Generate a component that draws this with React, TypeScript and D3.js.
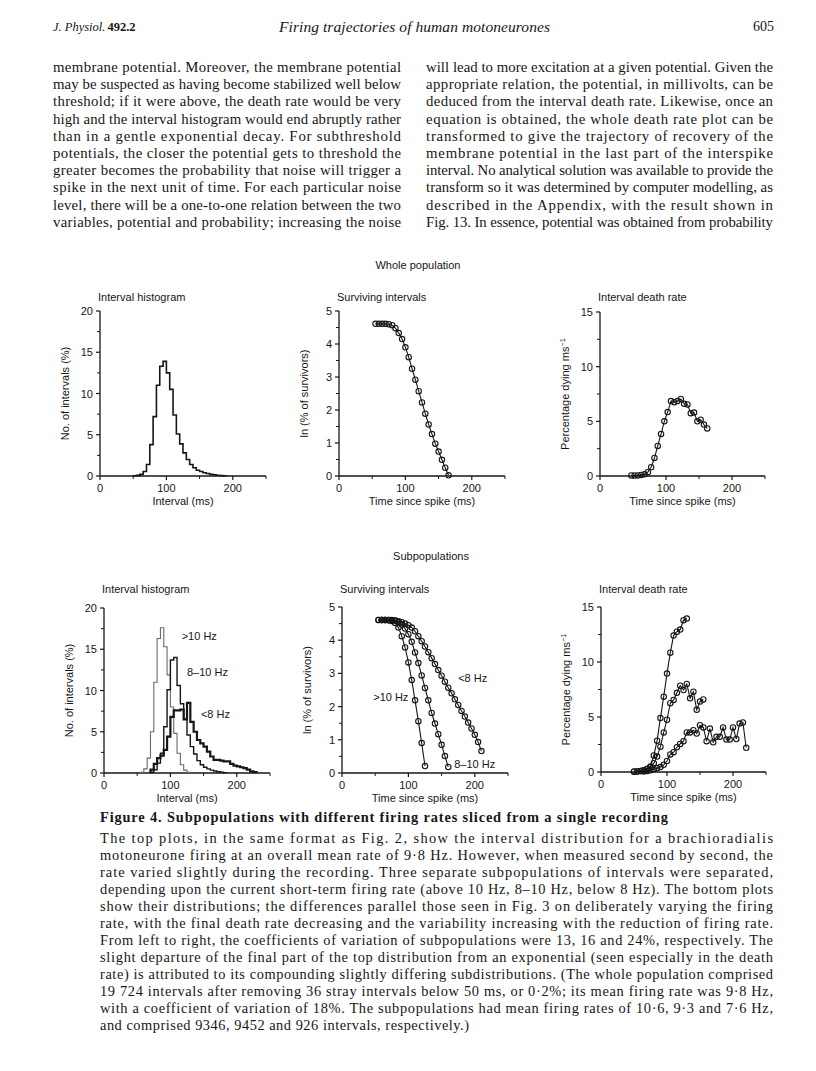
import React from "react";
import * as d3 from "d3";

// ===================== DATA =====================
// Whole population – interval histogram (5 ms bins; bin start in ms, % of intervals)
const wholeHistStart = [50, 55, 60, 65, 70, 75, 80, 85, 90, 95, 100, 105, 110, 115, 120, 125, 130, 135, 140, 145, 150, 155, 160, 165, 170, 175, 180, 185];
const wholeHistPct = [0.03, 0.08, 0.2, 0.55, 1.4, 3.8, 7.2, 11.0, 13.3, 13.9, 12.5, 10.5, 7.4, 5.1, 3.9, 2.8, 2.0, 1.4, 1.0, 0.7, 0.55, 0.4, 0.3, 0.22, 0.15, 0.1, 0.06, 0.03];

// Whole population – surviving intervals, ln(% of survivors)
const wholeSurvTime = [55, 60, 65, 70, 75, 80, 85, 90, 95, 100, 105, 110, 115, 120, 125, 130, 135, 140, 145, 150, 155, 160, 165];
const wholeSurvLn = [4.61, 4.61, 4.61, 4.61, 4.6, 4.57, 4.48, 4.33, 4.15, 3.9, 3.6, 3.25, 2.92, 2.57, 2.23, 1.89, 1.56, 1.27, 0.98, 0.74, 0.49, 0.25, 0.02];

// Whole population – interval death rate (% dying per ms)
const wholeDeathTime = [47.5, 52.5, 57.5, 62.5, 67.5, 72.5, 77.5, 82.5, 87.5, 92.5, 97.5, 102.5, 107.5, 112.5, 117.5, 122.5, 127.5, 132.5, 137.5, 142.5, 147.5, 152.5, 157.5, 162.5];
const wholeDeathRate = [0.05, 0.05, 0.05, 0.1, 0.15, 0.35, 0.8, 1.65, 2.75, 3.85, 5.0, 5.85, 6.85, 6.75, 6.85, 7.05, 6.6, 6.55, 5.75, 5.8, 5.0, 5.15, 4.7, 4.35];

// Subpopulations – interval histograms
const histGt10Start = [55, 60, 65, 70, 75, 80, 85, 90, 95, 100, 105, 110, 115, 120, 125];
const histGt10Pct = [0.1, 0.5, 1.8, 5.0, 11.0, 16.3, 17.6, 15.3, 11.9, 8.0, 4.8, 2.4, 1.0, 0.35, 0.1];
const hist8to10Start = [70, 75, 80, 85, 90, 95, 100, 105, 110, 115, 120, 125, 130, 135, 140, 145, 150, 155, 160, 165, 170, 175, 180];
const hist8to10Pct = [0.1, 0.4, 1.2, 2.4, 5.6, 10.1, 13.7, 14.0, 10.6, 8.4, 6.5, 4.6, 3.2, 2.3, 1.5, 1.0, 0.7, 0.5, 0.35, 0.25, 0.15, 0.1, 0.05];
const histLt8Start = [70, 75, 80, 85, 90, 95, 100, 105, 110, 115, 120, 125, 130, 135, 140, 145, 150, 155, 160, 165, 170, 175, 180, 185, 190, 195, 200, 205, 210, 215, 220, 225];
const histLt8Pct = [0.4, 1.1, 1.8, 2.1, 2.8, 4.4, 6.8, 7.6, 7.6, 7.7, 6.5, 8.5, 6.2, 5.0, 4.0, 3.6, 3.2, 2.6, 2.0, 1.6, 1.6, 1.5, 1.4, 1.4, 1.1, 0.9, 0.8, 0.7, 0.6, 0.4, 0.2, 0.1];

// Subpopulations – surviving intervals
const survGt10Time = [55, 60, 65, 70, 75, 80, 85, 90, 95, 100, 105, 110, 115, 120, 125];
const survGt10Ln = [4.61, 4.61, 4.61, 4.6, 4.58, 4.52, 4.38, 4.12, 3.78, 3.33, 2.8, 2.19, 1.56, 0.9, 0.21];
const surv8to10Time = [55, 60, 65, 70, 75, 80, 85, 90, 95, 100, 105, 110, 115, 120, 125, 130, 135, 140, 145, 150, 155, 160];
const surv8to10Ln = [4.61, 4.61, 4.61, 4.61, 4.61, 4.59, 4.55, 4.47, 4.35, 4.18, 3.95, 3.63, 3.31, 2.94, 2.56, 2.19, 1.81, 1.49, 1.17, 0.85, 0.51, 0.18];
const survLt8Time = [60, 65, 70, 75, 80, 85, 90, 95, 100, 105, 110, 115, 120, 125, 130, 135, 140, 145, 150, 155, 160, 165, 170, 175, 180, 185, 190, 195, 200, 205, 210];
const survLt8Ln = [4.61, 4.61, 4.61, 4.6, 4.59, 4.57, 4.54, 4.5, 4.45, 4.38, 4.27, 4.12, 3.97, 3.81, 3.64, 3.46, 3.28, 3.1, 2.93, 2.75, 2.57, 2.4, 2.22, 2.05, 1.87, 1.7, 1.52, 1.34, 1.15, 0.93, 0.66];

// Subpopulations – interval death rate
const deathGt10Time = [50, 55, 60, 65, 70, 75, 80, 85, 90, 95, 100, 105, 110, 115, 120, 125, 130];
const deathGt10Rate = [0.05, 0.05, 0.08, 0.15, 0.3, 0.5, 1.5, 2.85, 4.9, 6.85, 8.95, 10.85, 12.4, 12.75, 12.95, 13.8, 13.95];
const death8to10Time = [50, 55, 60, 65, 70, 75, 80, 85, 90, 95, 100, 105, 110, 115, 120, 125, 130, 135, 140, 145, 150, 155];
const death8to10Rate = [0.03, 0.05, 0.08, 0.15, 0.25, 0.45, 0.8, 1.4, 2.3, 3.6, 4.75, 6.25, 6.55, 7.2, 7.85, 7.45, 8.0, 6.7, 7.3, 5.65, 6.4, 6.6];
const deathLt8Time = [65, 70, 75, 80, 85, 90, 95, 100, 105, 110, 115, 120, 125, 130, 135, 140, 145, 150, 155, 160, 165, 170, 175, 180, 185, 190, 195, 200, 205, 210, 215, 220];
const deathLt8Rate = [0.05, 0.1, 0.15, 0.25, 0.35, 0.45, 0.65, 1.0, 1.6, 1.8, 2.25, 2.55, 2.8, 3.6, 3.6, 3.8, 3.5, 4.25, 4.05, 2.8, 3.95, 2.7, 3.2, 3.2, 4.05, 2.95, 2.95, 4.05, 3.0, 4.4, 4.5, 2.2];

const BIN_MS = 5;
const X_DOMAIN: [number, number] = [0, 250];
const X_LABELLED = [0, 100, 200];
const X_MINOR = [50, 150, 250];

// Text content
const headerLeft = "J. Physiol.";
const headerVol = "492.2";
const headerTitle = "Firing trajectories of human motoneurones";
const headerPage = "605";

const leftColumn = [
  "membrane potential. Moreover, the membrane potential",
  "may be suspected as having become stabilized well below",
  "threshold; if it were above, the death rate would be very",
  "high and the interval histogram would end abruptly rather",
  "than in a gentle exponential decay. For subthreshold",
  "potentials, the closer the potential gets to threshold the",
  "greater becomes the probability that noise will trigger a",
  "spike in the next unit of time. For each particular noise",
  "level, there will be a one-to-one relation between the two",
  "variables, potential and probability; increasing the noise",
];
const rightColumn = [
  "will lead to more excitation at a given potential. Given the",
  "appropriate relation, the potential, in millivolts, can be",
  "deduced from the interval death rate. Likewise, once an",
  "equation is obtained, the whole death rate plot can be",
  "transformed to give the trajectory of recovery of the",
  "membrane potential in the last part of the interspike",
  "interval. No analytical solution was available to provide the",
  "transform so it was determined by computer modelling, as",
  "described in the Appendix, with the result shown in",
  "Fig. 13. In essence, potential was obtained from probability",
];
const captionTitle = "Figure 4. Subpopulations with different firing rates sliced from a single recording";
const captionLines = [
  "The top plots, in the same format as Fig. 2, show the interval distribution for a brachioradialis",
  "motoneurone firing at an overall mean rate of 9·8 Hz. However, when measured second by second, the",
  "rate varied slightly during the recording. Three separate subpopulations of intervals were separated,",
  "depending upon the current short-term firing rate (above 10 Hz, 8–10 Hz, below 8 Hz). The bottom plots",
  "show their distributions; the differences parallel those seen in Fig. 3 on deliberately varying the firing",
  "rate, with the final death rate decreasing and the variability increasing with the reduction of firing rate.",
  "From left to right, the coefficients of variation of subpopulations were 13, 16 and 24%, respectively. The",
  "slight departure of the final part of the top distribution from an exponential (seen especially in the death",
  "rate) is attributed to its compounding slightly differing subdistributions. (The whole population comprised",
  "19 724 intervals after removing 36 stray intervals below 50 ms, or 0·2%; its mean firing rate was 9·8 Hz,",
  "with a coefficient of variation of 18%. The subpopulations had mean firing rates of 10·6, 9·3 and 7·6 Hz,",
  "and comprised 9346, 9452 and 926 intervals, respectively.)",
];

// ===================== STYLE / LAYOUT =====================
const SANS = "'Liberation Sans', Arial, Helvetica, sans-serif";
const SERIF = "'Liberation Serif', 'Times New Roman', serif";
const INK = "#161616";
const CHART_FS = 11;

type Scale = d3.ScaleLinear<number, number>;

type PanelProps = {
  xRange: [number, number];
  yRange: [number, number];
  yMax: number;
  yStep: number;
  yMinorStep: number;
  title: string;
  titleY: number;
  yLabel: React.ReactNode;
  xLabel: string;
  children: (x: Scale, y: Scale) => React.ReactNode;
};

function Panel(p: PanelProps) {
  const x = d3.scaleLinear().domain(X_DOMAIN).range(p.xRange);
  const y = d3.scaleLinear().domain([0, p.yMax]).range(p.yRange);
  const x0 = x(0);
  const y0 = y(0);
  const yMajor = d3.range(0, p.yMax + 1e-9, p.yStep);
  const yMinor = d3.range(0, p.yMax + 1e-9, p.yMinorStep).filter(
    (v) => !yMajor.some((m) => Math.abs(m - v) < 1e-6)
  );
  const midY = (y(0) + y(p.yMax)) / 2;
  return (
    <g fontFamily={SANS} fontSize={CHART_FS} fill={INK}>
      <text x={x0 - 2} y={p.titleY}>{p.title}</text>
      <line x1={x0} x2={x0} y1={y0} y2={y(p.yMax)} stroke={INK} strokeWidth={1.3} />
      <line x1={x0} x2={x(250)} y1={y0} y2={y0} stroke={INK} strokeWidth={1.3} />
      {yMajor.map((v) => (
        <g key={"ym" + v}>
          <line x1={x0 - 4} x2={x0} y1={y(v)} y2={y(v)} stroke={INK} strokeWidth={1.2} />
          <text x={x0 - 7} y={y(v) + 4} textAnchor="end">{v}</text>
        </g>
      ))}
      {yMinor.map((v) => (
        <line key={"yn" + v} x1={x0 - 3} x2={x0} y1={y(v)} y2={y(v)} stroke={INK} strokeWidth={1} />
      ))}
      {X_LABELLED.map((v) => (
        <g key={"xm" + v}>
          <line x1={x(v)} x2={x(v)} y1={y0} y2={y0 + 4} stroke={INK} strokeWidth={1.2} />
          <text x={x(v)} y={y0 + 16} textAnchor="middle">{v}</text>
        </g>
      ))}
      {X_MINOR.map((v) => (
        <line key={"xn" + v} x1={x(v)} x2={x(v)} y1={y0} y2={y0 + 3} stroke={INK} strokeWidth={1} />
      ))}
      <text x={(x(0) + x(250)) / 2} y={y0 + 29} textAnchor="middle">{p.xLabel}</text>
      <text transform={`translate(${x0 - 31},${midY}) rotate(-90)`} textAnchor="middle">{p.yLabel}</text>
      {p.children(x, y)}
    </g>
  );
}

function StepHist({ x, y, starts, vals, stroke, sw }: { x: Scale; y: Scale; starts: number[]; vals: number[]; stroke: string; sw: number }) {
  const pts: [number, number][] = [[starts[0], 0]];
  starts.forEach((s, i) => pts.push([s, vals[i]]));
  pts.push([starts[starts.length - 1] + BIN_MS, 0]);
  const line = d3
    .line<[number, number]>()
    .x((d) => x(d[0]))
    .y((d) => y(d[1]))
    .curve(d3.curveStepAfter);
  return <path d={line(pts) || ""} fill="none" stroke={stroke} strokeWidth={sw} strokeLinejoin="miter" />;
}

function DotLine({ x, y, t, v }: { x: Scale; y: Scale; t: number[]; v: number[] }) {
  const pts = t.map((tt, i) => [tt, v[i]] as [number, number]);
  const line = d3
    .line<[number, number]>()
    .x((d) => x(d[0]))
    .y((d) => y(d[1]));
  return (
    <g>
      <path d={line(pts) || ""} fill="none" stroke={INK} strokeWidth={1.1} />
      {pts.map((d, i) => (
        <circle key={i} cx={x(d[0])} cy={y(d[1])} r={2.7} fill="none" stroke={INK} strokeWidth={1.1} />
      ))}
    </g>
  );
}

const dyingLabel = (
  <>
    Percentage dying ms
    <tspan dy={-4} fontSize={7.5}>−1</tspan>
  </>
);

export default function App() {
  const bodyFs = 14.8;
  const capFs = 14.4;
  return (
    <svg
      width={816}
      height={1071}
      viewBox="0 0 816 1071"
      style={{ position: "absolute", left: 0, top: 0, background: "#fff" }}
    >
      <rect x={0} y={0} width={816} height={1071} fill="#fff" />
      {/* Header */}
      <g fontFamily={SERIF} fill={INK}>
        <text x={53} y={31} fontSize={12.5} fontStyle="italic">
          {headerLeft}
          <tspan fontStyle="normal" fontWeight="bold" dx={2}>{headerVol}</tspan>
        </text>
        <text x={279} y={32} fontSize={15.5} fontStyle="italic" textLength={271} lengthAdjust="spacing">
          {headerTitle}
        </text>
        <text x={774} y={31} fontSize={14} textAnchor="end">{headerPage}</text>
      </g>
      {/* Body columns */}
      <g fontFamily={SERIF} fill={INK} fontSize={bodyFs}>
        {leftColumn.map((s, i) => (
          <text key={"l" + i} x={53} y={72 + i * 17.2} textLength={348} lengthAdjust="spacing">{s}</text>
        ))}
        {rightColumn.map((s, i) => (
          <text key={"r" + i} x={426} y={72 + i * 17.2} textLength={347} lengthAdjust="spacing">{s}</text>
        ))}
      </g>

      {/* Section headings */}
      <text x={418} y={269} textAnchor="middle" fontFamily={SANS} fontSize={11} fill={INK}>Whole population</text>
      <text x={431} y={560} textAnchor="middle" fontFamily={SANS} fontSize={11} fill={INK}>Subpopulations</text>

      {/* Top row */}
      <Panel xRange={[100, 266]} yRange={[476, 311]} yMax={20} yStep={5} yMinorStep={2.5}
        title="Interval histogram" titleY={301} yLabel="No. of intervals (%)" xLabel="Interval (ms)">
        {(x, y) => <StepHist x={x} y={y} starts={wholeHistStart} vals={wholeHistPct} stroke={INK} sw={1.6} />}
      </Panel>
      <Panel xRange={[339, 505]} yRange={[476, 311]} yMax={5} yStep={1} yMinorStep={0.5}
        title="Surviving intervals" titleY={301} yLabel="ln (% of survivors)" xLabel="Time since spike (ms)">
        {(x, y) => <DotLine x={x} y={y} t={wholeSurvTime} v={wholeSurvLn} />}
      </Panel>
      <Panel xRange={[600, 765]} yRange={[476, 312]} yMax={15} yStep={5} yMinorStep={2.5}
        title="Interval death rate" titleY={301} yLabel={dyingLabel} xLabel="Time since spike (ms)">
        {(x, y) => <DotLine x={x} y={y} t={wholeDeathTime} v={wholeDeathRate} />}
      </Panel>

      {/* Bottom row */}
      <Panel xRange={[104, 270]} yRange={[773, 608]} yMax={20} yStep={5} yMinorStep={2.5}
        title="Interval histogram" titleY={593} yLabel="No. of intervals (%)" xLabel="Interval (ms)">
        {(x, y) => (
          <g>
            <StepHist x={x} y={y} starts={histGt10Start} vals={histGt10Pct} stroke="#6a6a6a" sw={1.1} />
            <StepHist x={x} y={y} starts={hist8to10Start} vals={hist8to10Pct} stroke={INK} sw={1.4} />
            <StepHist x={x} y={y} starts={histLt8Start} vals={histLt8Pct} stroke={INK} sw={2.2} />
            <text x={x(117)} y={y(16.1)}>{">10 Hz"}</text>
            <text x={x(125)} y={y(11.8)}>8–10 Hz</text>
            <text x={x(146)} y={y(6.7)}>{"<8 Hz"}</text>
          </g>
        )}
      </Panel>
      <Panel xRange={[342, 508]} yRange={[773, 607]} yMax={5} yStep={1} yMinorStep={0.5}
        title="Surviving intervals" titleY={593} yLabel="ln (% of survivors)" xLabel="Time since spike (ms)">
        {(x, y) => (
          <g>
            <DotLine x={x} y={y} t={survGt10Time} v={survGt10Ln} />
            <DotLine x={x} y={y} t={surv8to10Time} v={surv8to10Ln} />
            <DotLine x={x} y={y} t={survLt8Time} v={survLt8Ln} />
            <text x={x(175)} y={y(2.74)}>{"<8 Hz"}</text>
            <text x={x(47)} y={y(2.17)}>{">10 Hz"}</text>
            <text x={x(169)} y={y(0.15)}>8–10 Hz</text>
          </g>
        )}
      </Panel>
      <Panel xRange={[601, 766]} yRange={[772, 607]} yMax={15} yStep={5} yMinorStep={2.5}
        title="Interval death rate" titleY={593} yLabel={dyingLabel} xLabel="Time since spike (ms)">
        {(x, y) => (
          <g>
            <DotLine x={x} y={y} t={deathGt10Time} v={deathGt10Rate} />
            <DotLine x={x} y={y} t={death8to10Time} v={death8to10Rate} />
            <DotLine x={x} y={y} t={deathLt8Time} v={deathLt8Rate} />
          </g>
        )}
      </Panel>

      {/* Caption */}
      <g fontFamily={SERIF} fill={INK} fontSize={capFs}>
        <text x={100} y={822} fontWeight="bold" textLength={568} lengthAdjust="spacing">{captionTitle}</text>
        {captionLines.map((s, i) =>
          i < captionLines.length - 1 ? (
            <text key={"c" + i} x={100} y={843 + i * 17} textLength={673} lengthAdjust="spacing">{s}</text>
          ) : (
            <text key={"c" + i} x={100} y={843 + i * 17} textLength={369} lengthAdjust="spacing">{s}</text>
          )
        )}
      </g>
    </svg>
  );
}
